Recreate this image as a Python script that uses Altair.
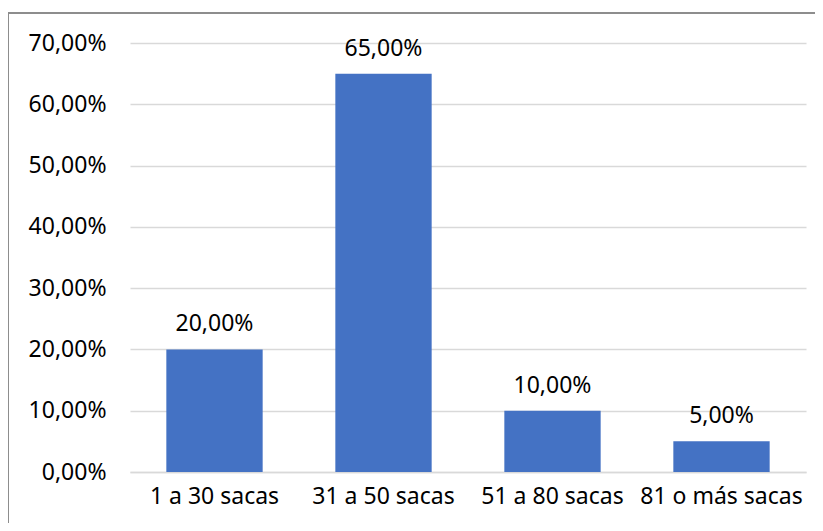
import altair as alt
import pandas as pd

categories = ["1 a 30 sacas", "31 a 50 sacas", "51 a 80 sacas", "81 o más sacas"]
values = [20.0, 65.0, 10.0, 5.0]
y_ticks = [0, 10, 20, 30, 40, 50, 60, 70]

df = pd.DataFrame({"cat": categories, "val": values})

FONT = "Noto Sans"
FS = 23
W, H = 676, 429

base = alt.Chart(df).transform_calculate(
    lab="replace(format(datum.val, '.2f'), '.', ',') + '%'"
)

bars = base.mark_bar(color="#4472C4").encode(
    x=alt.X("cat:N", sort=categories, title=None,
            scale=alt.Scale(paddingInner=0.43, paddingOuter=0.215),
            axis=alt.Axis(labelAngle=0, labelFontSize=FS, labelFont=FONT,
                          labelColor="#000000", labelPadding=13, ticks=False, grid=False,
                          domainColor="#d9d9d9", domainWidth=1.5)),
    y=alt.Y("val:Q", title=None,
            scale=alt.Scale(domain=[0, 70]),
            axis=alt.Axis(values=y_ticks, labelFontSize=FS, labelFont=FONT,
                          labelColor="#000000", labelPadding=24, ticks=False,
                          domain=False, gridColor="#d9d9d9", gridWidth=1.3,
                          labelExpr="replace(format(datum.value, '.2f'), '.', ',') + '%'")),
)

text = base.mark_text(fontSize=FS, font=FONT, color="#000000", baseline="alphabetic", dy=-18).encode(
    x=alt.X("cat:N", sort=categories),
    y=alt.Y("val:Q"),
    text="lab:N",
)

border = alt.Chart(df).mark_rule(color="#8c8c8c", strokeWidth=1.3, clip=False).encode(
    x=alt.value(-122), x2=alt.value(W + 9), y=alt.value(-30), y2=alt.value(-30)
)
border2 = alt.Chart(df).mark_rule(color="#8c8c8c", strokeWidth=1.3, clip=False).encode(
    x=alt.value(-122), x2=alt.value(-122), y=alt.value(-30), y2=alt.value(H + 51)
)

chart = alt.layer(bars, text, border, border2).properties(
    width=W, height=H,
    autosize=alt.AutoSizeParams(type="none"),
    padding={"left": 122, "top": 35, "right": 9, "bottom": 51},
    view=alt.ViewBackground(stroke="transparent", strokeWidth=0),
).configure_view(stroke="transparent", strokeWidth=0).configure(background="#ffffff")

chart.save("out.html", embed_options={"renderer": "svg", "actions": False})
